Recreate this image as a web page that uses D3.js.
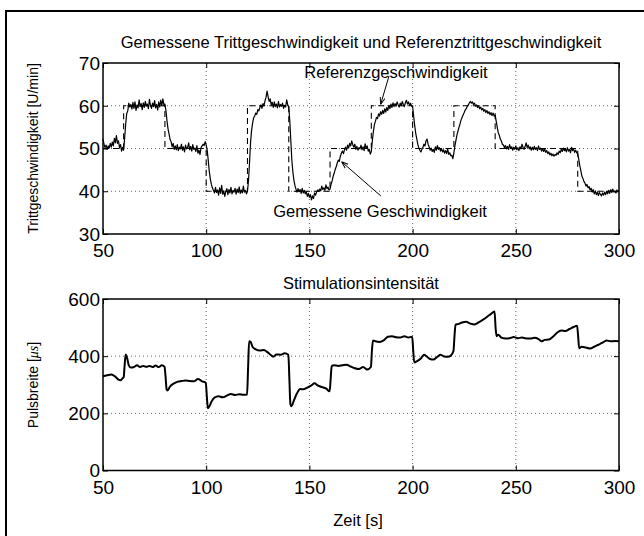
<!DOCTYPE html>
<html>
<head>
<meta charset="utf-8">
<script src="https://cdn.jsdelivr.net/npm/d3@7"></script>
<style>
  body { margin: 0; background: #fff; }
  svg { display: block; font-family: "Liberation Sans", Arial, Helvetica, sans-serif; }
</style>
</head>
<body>
<div id="chart"></div>
<script>
// ---- data ----
const timeTicks = [50, 100, 150, 200, 250, 300];
const speedTicks = [30, 40, 50, 60, 70];
const pulseTicks = [0, 200, 400, 600];

// reference cadence (step changes)
const refTimes = [50, 60, 80, 100, 120, 140, 160, 180, 200, 220, 240, 280, 300];
const refSpeed = [50, 60, 50, 40, 60, 40, 50, 60, 50, 60, 50, 40, 40];

// measured cadence, sampled every 0.5 s from t = 50 s (one row = 5 s)
const measStart = 50, measStep = 0.5;
const measSpeed = [
  52.2, 51.0, 50.2, 50.8, 49.8, 50.6, 50.1, 51.2, 50.3, 51.5,
  50.6, 52.4, 51.3, 53.0, 51.2, 51.8, 50.2, 50.9, 49.4, 50.3,
  49.6, 52.5, 55.8, 58.2, 58.8, 60.6, 59.7, 60.3, 59.2, 60.8,
  59.4, 60.9, 58.9, 60.2, 59.5, 61.4, 59.8, 60.5, 59.1, 60.7,
  59.6, 61.0, 59.9, 60.4, 59.3, 61.5, 60.1, 59.4, 60.6, 59.8,
  61.2, 59.5, 60.3, 59.0, 60.9, 59.7, 61.3, 60.0, 61.6, 60.2,
  60.4, 58.8, 56.5, 54.6, 53.4, 52.1, 51.6, 50.4, 51.2, 49.8,
  50.6, 49.7, 50.9, 49.5, 50.3, 49.9, 51.0, 49.6, 50.4, 49.2,
  50.8, 49.9, 50.2, 51.3, 49.7, 50.5, 49.4, 50.9, 49.8, 50.1,
  49.3, 50.7, 48.9, 49.6, 48.6, 50.2, 50.6, 51.0, 50.7, 51.6,
  50.8, 49.5, 47.2, 44.6, 42.9, 41.6, 40.8, 40.2, 39.6, 40.9,
  39.7, 40.3, 39.1, 40.8, 39.5, 41.4, 39.3, 40.1, 38.8, 39.9,
  40.6, 39.2, 40.4, 39.6, 40.9, 39.4, 40.2, 39.8, 40.7, 39.3,
  40.5, 39.7, 41.0, 39.5, 40.3, 39.6, 41.2, 39.8, 40.2, 39.4,
  40.0, 42.5, 46.8, 51.5, 54.3, 56.0, 57.2, 57.6, 58.3, 58.0,
  59.1, 58.8, 59.6, 60.2, 59.4, 60.5, 60.0, 61.2, 62.0, 63.4,
  62.1, 61.0, 61.6, 60.2, 60.8, 59.6, 60.9, 59.8, 60.4, 59.5,
  61.0, 59.7, 60.3, 59.9, 60.6, 59.4, 60.1, 59.7, 61.4, 60.2,
  59.8, 56.5, 51.8, 47.2, 44.5, 42.6, 41.3, 40.5, 39.8, 40.6,
  39.9, 40.4, 39.5, 40.7, 39.6, 40.2, 39.4, 39.9, 38.8, 39.5,
  38.6, 39.2, 38.0, 38.9, 38.3, 39.6, 39.1, 39.8, 40.3, 40.0,
  40.5, 40.1, 41.2, 40.4, 40.8, 40.2, 41.5, 40.6, 41.0, 40.3,
  40.5, 41.6, 42.4, 43.5, 44.2, 45.1, 45.8, 46.6, 47.3, 47.0,
  48.2, 48.9, 49.4, 48.8, 49.7, 50.3, 49.6, 50.8, 50.1, 51.2,
  50.6, 51.8, 50.9, 50.3, 51.0, 49.8, 50.5, 49.6, 50.2, 49.9,
  50.8, 49.7, 50.4, 49.5, 51.1, 50.0, 50.6, 49.4, 49.8, 48.7,
  49.3, 51.8, 54.0, 55.6, 56.4, 57.3, 57.0, 58.1, 57.6, 58.6,
  58.0, 58.9, 58.2, 59.3, 58.5, 59.6, 58.9, 60.1, 59.3, 60.4,
  59.6, 60.7, 59.8, 60.5, 59.9, 60.9, 60.2, 59.7, 60.6, 60.0,
  61.0, 60.3, 59.8, 60.7, 61.3, 60.4, 60.9, 60.1, 60.6, 59.9,
  59.8, 57.6, 55.4, 53.6, 52.3, 51.0, 50.2, 49.6, 49.2, 49.8,
  50.3, 51.0, 50.6, 51.8, 52.2, 51.0, 50.4, 49.6, 50.1, 49.3,
  49.8, 49.1, 50.4, 49.6, 50.7, 49.8, 50.2, 49.4, 50.0, 49.2,
  49.7, 48.9, 49.5, 48.8, 49.9, 48.6, 49.0, 48.3, 48.4, 47.6,
  49.0, 50.6, 51.9, 53.2, 54.1, 55.0, 55.8, 56.7, 57.3, 57.9,
  58.4, 59.0, 59.3, 59.9, 60.2, 60.7, 61.0, 60.6, 60.9, 60.3,
  60.6, 59.9, 60.2, 59.6, 60.0, 59.3, 59.7, 59.0, 59.4, 58.7,
  59.1, 58.4, 58.9, 58.2, 58.6, 57.9, 58.4, 57.7, 58.3, 57.6,
  57.8, 56.4, 55.0, 53.7, 53.1, 52.2, 51.8, 51.0, 50.8, 50.2,
  50.7, 49.9, 50.5, 49.8, 50.9, 50.1, 50.4, 49.6, 50.3, 49.8,
  50.6, 49.7, 50.2, 49.5, 50.4, 49.9, 51.0, 50.3, 49.8, 50.5,
  51.3, 50.2, 50.8, 49.9, 50.4, 49.6, 50.3, 49.7, 50.5, 49.8,
  50.2, 49.5, 50.6, 49.8, 50.1, 49.4, 50.0, 49.3, 49.9, 49.1,
  49.5, 48.8, 49.2, 48.5, 48.9, 48.3, 48.7, 48.2, 48.6, 48.4,
  49.0, 48.6, 49.4, 49.0, 49.8, 49.3, 50.1, 49.5, 49.9, 49.2,
  50.2, 49.4, 49.8, 49.0, 50.3, 49.5, 49.9, 49.1, 49.6, 49.0,
  48.8, 47.5, 46.0, 44.8, 43.6, 43.0, 42.3, 41.9, 41.2, 41.6,
  40.8, 41.1, 40.3, 40.7, 39.8, 40.4, 39.4, 40.1, 39.2, 39.8,
  39.0, 39.7, 39.3, 38.9, 39.6, 39.1, 39.8, 39.2, 40.0, 39.4,
  40.2, 39.5, 40.4, 39.7, 40.5, 39.8, 40.1, 39.6, 40.3, 39.9,
  40.2
];

// stimulation pulse width [us]
const pulseTimes = [
  50, 52, 54, 56, 57.5, 58.5, 59.5, 60, 60.5, 61, 61.8, 62.5, 63.5, 65, 66.5, 68, 69.5, 71, 72.5, 74,
  75.5, 77, 78.5, 79.8, 80.3, 80.8, 81.3, 82.3, 84, 86, 88, 90, 92, 94, 96, 98, 99.8, 100.3, 100.8, 101.5,
  102.5, 104, 106, 108, 110, 112, 114, 116, 118, 119.8, 120.3, 120.8, 121.5, 122.5, 124, 126, 128, 129.5, 131, 132.5,
  134, 136, 138, 139.8, 140.3, 140.8, 141.3, 142.5, 144, 145.5, 147, 149, 151, 152.5, 154, 156, 158, 159.8, 160.3, 160.8,
  162, 164, 166, 168, 170, 172, 174, 176, 178, 179.8, 180.3, 180.8, 182, 184, 186, 188, 190, 192, 194, 196,
  198, 199.8, 200.3, 200.8, 202, 204, 205.5, 207, 208.5, 210, 212, 213.5, 215, 217, 218.5, 219.8, 220.3, 220.8, 222, 224,
  226, 228, 230, 232, 234, 236, 238, 239.7, 240.2, 240.7, 241.5, 243, 245, 247, 249, 251, 253, 255, 257, 259,
  261, 262.5, 264, 266, 268, 270, 272, 274, 276, 278, 279.7, 280.2, 280.7, 282, 284, 286, 288, 290, 292, 294,
  296, 298, 300
];
const pulseWidth = [
  330, 333, 336, 328, 318, 316, 323, 326, 370, 406, 390, 368, 360, 362, 368, 362, 366, 363, 366, 362,
  367, 362, 368, 363, 330, 285, 280, 292, 303, 310, 313, 315, 313, 312, 320, 312, 307, 260, 218, 224,
  240, 255, 260, 256, 262, 268, 264, 267, 265, 266, 360, 452, 450, 432, 424, 420, 422, 415, 406, 398,
  406, 405, 410, 405, 320, 232, 225, 245, 270, 285, 284, 290, 298, 305, 298, 292, 287, 277, 320, 365,
  368, 366, 368, 370, 364, 358, 355, 362, 353, 362, 420, 455, 452, 450, 455, 468, 470, 466, 465, 470,
  465, 468, 420, 378, 382, 392, 405, 398, 390, 388, 398, 405, 400, 398, 402, 418, 470, 510, 512, 518,
  520, 514, 511, 518, 527, 537, 548, 556, 500, 470, 475, 465, 462, 463, 467, 463, 465, 462, 462, 464,
  460, 452, 457, 458, 468, 482, 490, 488, 495, 502, 506, 470, 428, 433, 430, 427, 433, 440, 447, 455,
  452, 453, 452
];

// ---- layout ----
const W = 644, H = 536;
const font = '"Liberation Sans", Arial, Helvetica, sans-serif';
const labelSize = 16.5;

const svg = d3.select("#chart").append("svg")
  .attr("width", W)
  .attr("height", H);

// figure frame (only top and left edges visible)
svg.append("path")
  .attr("d", "M6,536V11H644")
  .attr("fill", "none")
  .attr("stroke", "#000")
  .attr("stroke-width", 2);

const x = d3.scaleLinear().domain([50, 300]).range([103, 619]);
const ySpeed = d3.scaleLinear().domain([30, 70]).range([234, 63]);
const yPulse = d3.scaleLinear().domain([0, 600]).range([470.5, 299]);

svg.append("defs").append("marker")
  .attr("id", "arrow")
  .attr("viewBox", "0 0 10 10")
  .attr("refX", 10).attr("refY", 5)
  .attr("markerWidth", 7).attr("markerHeight", 7)
  .attr("orient", "auto-start-reverse")
  .attr("markerUnits", "userSpaceOnUse")
  .append("path")
  .attr("d", "M0,1.5L10,5L0,8.5")
  .attr("fill", "none")
  .attr("stroke", "#000")
  .attr("stroke-width", 1.4);

function drawPanel(y, yTicks) {
  const [x0, x1] = x.range();
  const [y1, y0] = y.range();
  const g = svg.append("g");

  // dotted grid
  g.selectAll(".gx").data(timeTicks.slice(1, -1)).enter().append("line")
    .attr("x1", d => x(d)).attr("x2", d => x(d))
    .attr("y1", y0).attr("y2", y1)
    .attr("stroke", "#666").attr("stroke-width", 1)
    .attr("stroke-dasharray", "1,3");
  g.selectAll(".gy").data(yTicks.slice(1, -1)).enter().append("line")
    .attr("x1", x0).attr("x2", x1)
    .attr("y1", d => y(d)).attr("y2", d => y(d))
    .attr("stroke", "#666").attr("stroke-width", 1)
    .attr("stroke-dasharray", "1,3");

  // axes with inward ticks
  g.append("g").attr("transform", `translate(0,${y1})`)
    .call(d3.axisBottom(x).tickValues(timeTicks).tickSizeInner(-5).tickSizeOuter(0).tickPadding(10));
  g.append("g").attr("transform", `translate(0,${y0})`)
    .call(d3.axisTop(x).tickValues(timeTicks).tickSizeInner(-5).tickSizeOuter(0).tickFormat(""));
  const ay = g.append("g").attr("transform", `translate(${x0},0)`)
    .call(d3.axisLeft(y).tickValues(yTicks).tickSizeInner(-5).tickSizeOuter(0).tickPadding(3));
  g.append("g").attr("transform", `translate(${x1},0)`)
    .call(d3.axisRight(y).tickValues(yTicks).tickSizeInner(-5).tickSizeOuter(0).tickFormat(""));

  g.selectAll(".domain").remove();
  g.selectAll(".tick line").attr("stroke", "#000");
  g.selectAll(".tick text")
    .attr("font-family", font)
    .attr("font-size", 19)
    .attr("fill", "#000");
  ay.selectAll(".tick text").attr("dy", "0.34em");

  return g;
}

function drawBox(y) {
  const [x0, x1] = x.range();
  const [y1, y0] = y.range();
  svg.append("rect")
    .attr("x", x0).attr("y", y0)
    .attr("width", x1 - x0).attr("height", y1 - y0)
    .attr("fill", "none")
    .attr("stroke", "#000")
    .attr("stroke-width", 1.5);
}

// ---- top panel ----
drawPanel(ySpeed, speedTicks);

const refData = refTimes.map((t, i) => [t, refSpeed[i]]);
svg.append("path")
  .datum(refData)
  .attr("fill", "none")
  .attr("stroke", "#000")
  .attr("stroke-width", 1.1)
  .attr("stroke-dasharray", "6,4")
  .attr("d", d3.line().x(d => x(d[0])).y(d => ySpeed(d[1])).curve(d3.curveStepAfter));

const measData = measSpeed.map((v, i) => [measStart + i * measStep, v]);
svg.append("path")
  .datum(measData)
  .attr("fill", "none")
  .attr("stroke", "#000")
  .attr("stroke-width", 1.2)
  .attr("stroke-linejoin", "round")
  .attr("d", d3.line().x(d => x(d[0])).y(d => ySpeed(d[1])));

drawBox(ySpeed);

svg.append("text")
  .attr("x", 361).attr("y", 48)
  .attr("text-anchor", "middle")
  .attr("font-family", font).attr("font-size", labelSize)
  .text("Gemessene Trittgeschwindigkeit und Referenztrittgeschwindigkeit");

svg.append("text")
  .attr("transform", "translate(38,148.5) rotate(-90)")
  .attr("text-anchor", "middle")
  .attr("font-family", font).attr("font-size", 14)
  .text("Trittgeschwindigkeit [U/min]");

// annotations
const notes = [
  { text: "Referenzgeschwindigkeit", tx: 147.5, ty: 66.4, from: [188.6, 67.0], to: [184.5, 60.3] },
  { text: "Gemessene Geschwindigkeit", tx: 132.5, ty: 34.0, from: [184.6, 38.9], to: [165.6, 46.9] }
];
notes.forEach(n => {
  svg.append("text")
    .attr("x", x(n.tx)).attr("y", ySpeed(n.ty))
    .attr("font-family", font).attr("font-size", labelSize)
    .text(n.text);
  svg.append("line")
    .attr("x1", x(n.from[0])).attr("y1", ySpeed(n.from[1]))
    .attr("x2", x(n.to[0])).attr("y2", ySpeed(n.to[1]))
    .attr("stroke", "#000").attr("stroke-width", 1)
    .attr("marker-end", "url(#arrow)");
});

// ---- bottom panel ----
drawPanel(yPulse, pulseTicks);

const pulseData = pulseTimes.map((t, i) => [t, pulseWidth[i]]);
svg.append("path")
  .datum(pulseData)
  .attr("fill", "none")
  .attr("stroke", "#000")
  .attr("stroke-width", 2)
  .attr("stroke-linejoin", "round")
  .attr("d", d3.line().x(d => x(d[0])).y(d => yPulse(d[1])).curve(d3.curveMonotoneX));

drawBox(yPulse);

svg.append("text")
  .attr("x", 361).attr("y", 289)
  .attr("text-anchor", "middle")
  .attr("font-family", font).attr("font-size", labelSize)
  .text("Stimulationsintensität");

const pl = svg.append("text")
  .attr("transform", "translate(38,385) rotate(-90)")
  .attr("text-anchor", "middle")
  .attr("font-family", font).attr("font-size", 14);
pl.append("tspan").text("Pulsbreite [");
pl.append("tspan")
  .attr("font-family", '"Liberation Serif", "DejaVu Serif", serif')
  .attr("font-style", "italic")
  .text("μs");
pl.append("tspan").text("]");

svg.append("text")
  .attr("x", 358).attr("y", 526)
  .attr("text-anchor", "middle")
  .attr("font-family", font).attr("font-size", labelSize)
  .text("Zeit [s]");
</script>
</body>
</html>
